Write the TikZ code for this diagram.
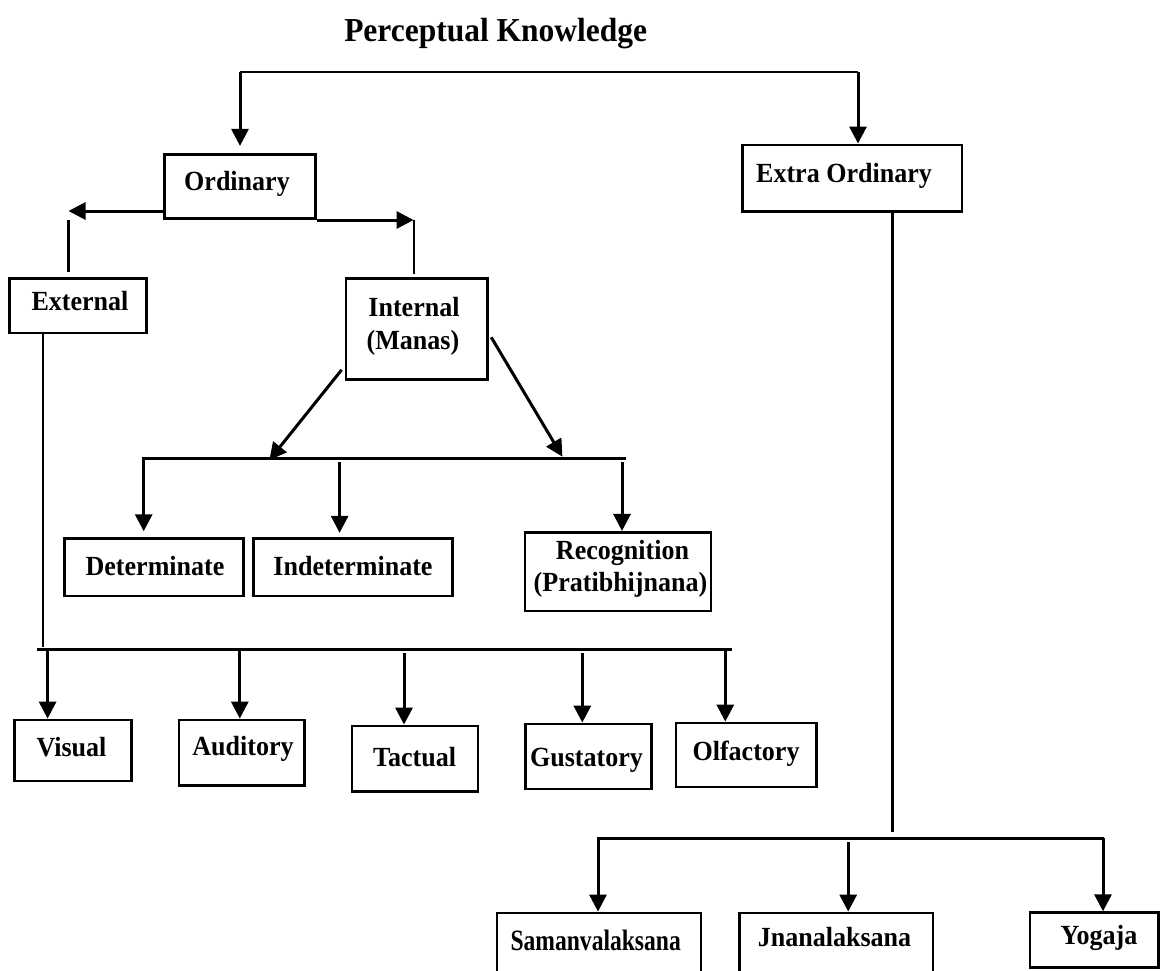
\documentclass[tikz,border=0pt]{standalone}
\usepackage{fontspec}
\setmainfont{Liberation Serif}[FakeStretch=0.94]
\usetikzlibrary{arrows.meta,calc}
\begin{document}
\begin{tikzpicture}[x=1pt,y=-1pt,
  box/.style={draw, line width=2.8pt, rectangle, inner sep=0pt},
  lbl/.style={inner sep=0pt, anchor=base, font=\fontsize{27.7}{32}\selectfont\bfseries},
  ttl/.style={inner sep=0pt, anchor=base, font=\fontsize{33.5}{38}\selectfont\bfseries},
  arr/.style={line width=3pt, -{Triangle[length=17pt,width=17pt]}},
  bar/.style={line width=3pt, line cap=rect},
  thinline/.style={line width=2.2pt},
  topline/.style={line width=2pt}]
\useasboundingbox (0,0) rectangle (1161,970);

% title
\node[ttl] (title) at (495.7,41.7) {Perceptual Knowledge};

% boxes
\node[box, minimum width=150.6pt, minimum height=64pt] (ord) at (240,186.3) {};
\node[box, minimum width=219.5pt, minimum height=66.5pt] (eo) at (852.2,178.2) {};
\node[box, minimum width=137.4pt, minimum height=54.7pt] (ext) at (78,305.6) {};
\node[box, minimum width=141.5pt, minimum height=101pt] (int) at (416.8,328.9) {};
\node[box, minimum width=179.2pt, minimum height=57.3pt] (det) at (154.1,567.3) {};
\node[box, minimum width=198.7pt, minimum height=57.3pt] (ind) at (352.9,567.3) {};
\node[box, minimum width=186pt, minimum height=78.7pt] (rec) at (618,571.7) {};
\node[box, minimum width=117pt, minimum height=61pt] (vis) at (72.8,750.5) {};
\node[box, minimum width=125.4pt, minimum height=65.7pt] (aud) at (241.7,752.8) {};
\node[box, minimum width=126pt, minimum height=65.7pt] (tac) at (415,758.8) {};
\node[box, minimum width=126pt, minimum height=65pt] (gus) at (588.7,756.5) {};
\node[box, minimum width=140.3pt, minimum height=64pt] (olf) at (746.2,755) {};
\node[box, minimum width=204pt, minimum height=87pt] (sam) at (599,956.5) {};
\node[box, minimum width=193.7pt, minimum height=87pt] (jna) at (836.2,956.5) {};
\node[box, minimum width=128.5pt, minimum height=54.6pt] (yog) at (1094.2,940) {};

% texts
\node[lbl] (ordt) at (237,190.7) {Ordinary};
\node[lbl] (eot) at (844,182) {Extra Ordinary};
\node[lbl] (extt) at (80,310.7) {External};
\node[lbl] (intt1) at (414,316.7) {Internal};
\node[lbl] (intt2) at (413,349.5) {(Manas)};
\node[lbl] (dett) at (155,575) {Determinate};
\node[lbl] (indt) at (353,575) {Indeterminate};
\node[lbl] (rect1) at (622.5,559.3) {Recognition};
\node[lbl] (rect2) at (620.5,591) {(Pratibhijnana)};
\node[lbl] (vist) at (71.5,756) {Visual};
\node[lbl] (audt) at (243,755.7) {Auditory};
\node[lbl] (tact) at (414.5,766) {Tactual};
\node[lbl] (gust) at (586.5,766) {Gustatory};
\node[lbl] (olft) at (746,760.7) {Olfactory};
\node[lbl] (samt) at (595.7,950) {\scalebox{0.85}[1]{\fontsize{29.5}{33}\selectfont\bfseries Samanvalaksana}};
\node[lbl] (jnat) at (834.5,946) {Jnanalaksana};
\node[lbl] (yogt) at (1099,944) {Yogaja};

% top split
\coordinate (tl) at (240,72);
\coordinate (tr) at (858,72);
\draw[topline] (tl) -- (tr);
\draw[arr, shorten >=7pt] (tl) -- (tl |- ord.north);
\draw[arr] (tr) -- (tr |- eo.north);

% ordinary split
\coordinate (oL) at (68.5,211);
\draw[arr] (ord.west |- oL) -- (oL);
\coordinate (oLd) at (68.5,220);
\draw[thinline] (oLd) -- ($(oLd |- ext.north)+(0,-5)$);
\coordinate (oR) at (413.6,220);
\draw[arr] (ord.east |- oR) -- (oR);
\draw[thinline] (oR) -- ($(oR |- int.north)+(0,-3)$);

% internal split
\coordinate (dl) at (269.4,460);
\coordinate (dr) at (562.4,456.7);
\draw[arr] ($(int.south west)+(-3,-11)$) -- (dl);
\draw[arr] ($(int.east)+(2.3,8.4)$) -- (dr);
\coordinate (b1l) at (143.7,458.7);
\coordinate (b1r) at (624.5,458.7);
\draw[bar] (b1l) -- (b1r);
\draw[arr, shorten >=6pt] (b1l) -- (b1l |- det.north);
\coordinate (b1m) at (339.6,462);
\draw[arr, shorten >=4.4pt] (b1m) -- (b1m |- ind.north);
\coordinate (b1q) at (622,462);
\draw[arr] (b1q) -- (b1q |- rec.north);

% external split
\coordinate (ev) at (42.7,646.7);
\draw[thinline] (ev |- ext.south) -- (ev);
\coordinate (b2l) at (38,649);
\coordinate (b2r) at (730.5,649);
\draw[bar] (b2l) -- (b2r);
\coordinate (a1) at (47.6,649);
\coordinate (a2) at (239.8,649);
\coordinate (a3) at (404,653.3);
\coordinate (a4) at (582.3,653.3);
\coordinate (a5) at (725.3,649);
\draw[arr] (a1) -- (a1 |- vis.north);
\draw[arr] (a2) -- (a2 |- aud.north);
\draw[arr] (a3) -- (a3 |- tac.north);
\draw[arr] (a4) -- (a4 |- gus.north);
\draw[arr] (a5) -- (a5 |- olf.north);

% extra ordinary split
\coordinate (ev2) at (892.5,831.7);
\draw[thinline] (ev2 |- eo.south) -- (ev2);
\coordinate (b3l) at (598,838.3);
\coordinate (b3r) at (1103,838.3);
\draw[bar, line width=2.5pt] (b3l) -- (b3r);
\coordinate (c2) at (848.2,841.7);
\draw[arr] (b3l) -- (b3l |- sam.north);
\draw[arr] (c2) -- (c2 |- jna.north);
\draw[arr] (b3r) -- (b3r |- yog.north);
\end{tikzpicture}
\end{document}
